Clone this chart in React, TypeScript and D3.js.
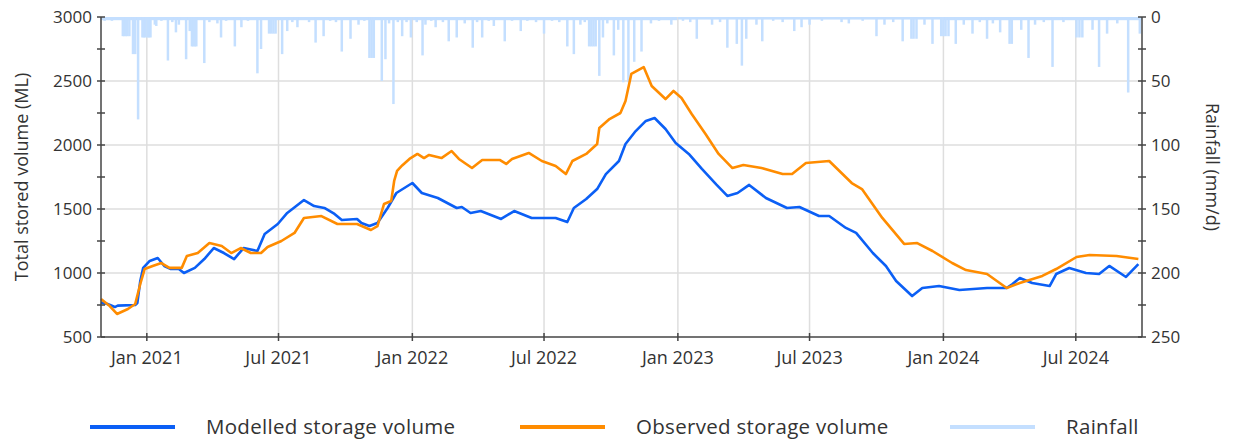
import React, { useEffect, useRef } from "react";
import * as d3 from "d3";

// storage volumes (ML)
const modelled: [string, number][] = [
  ["2020-10-30", 770], ["2020-11-08", 758], ["2020-11-18", 734], ["2020-11-22", 745], ["2020-12-16", 750],
  ["2020-12-19", 766], ["2020-12-23", 938], ["2020-12-27", 1040], ["2021-01-05", 1094],
  ["2021-01-16", 1117], ["2021-01-25", 1055], ["2021-02-03", 1031], ["2021-02-14", 1031],
  ["2021-02-21", 1000], ["2021-03-08", 1040], ["2021-03-21", 1109], ["2021-04-03", 1195],
  ["2021-04-17", 1156], ["2021-05-01", 1109], ["2021-05-14", 1195], ["2021-06-02", 1172],
  ["2021-06-12", 1305], ["2021-06-30", 1383], ["2021-07-13", 1469], ["2021-08-05", 1570],
  ["2021-08-19", 1523], ["2021-09-02", 1508], ["2021-09-16", 1461], ["2021-09-26", 1414],
  ["2021-10-17", 1422], ["2021-10-23", 1391], ["2021-11-03", 1367], ["2021-11-14", 1391],
  ["2021-11-28", 1508], ["2021-12-10", 1625], ["2022-01-01", 1703], ["2022-01-14", 1625],
  ["2022-02-05", 1586], ["2022-03-03", 1508], ["2022-03-10", 1516], ["2022-03-22", 1469],
  ["2022-04-05", 1484], ["2022-05-03", 1422], ["2022-05-21", 1484], ["2022-06-14", 1430],
  ["2022-07-17", 1430], ["2022-08-02", 1398], ["2022-08-11", 1508], ["2022-08-28", 1578],
  ["2022-09-12", 1656], ["2022-09-24", 1773], ["2022-10-12", 1875], ["2022-10-21", 2008],
  ["2022-11-04", 2109], ["2022-11-18", 2188], ["2022-11-30", 2211], ["2022-12-15", 2125],
  ["2022-12-29", 2016], ["2023-01-16", 1930], ["2023-02-03", 1813], ["2023-02-23", 1690],
  ["2023-03-10", 1602], ["2023-03-24", 1625], ["2023-04-09", 1688], ["2023-05-02", 1586],
  ["2023-05-31", 1508], ["2023-06-17", 1516], ["2023-07-14", 1445], ["2023-07-28", 1445],
  ["2023-08-20", 1352], ["2023-09-03", 1313], ["2023-09-26", 1156], ["2023-10-14", 1055],
  ["2023-10-28", 938], ["2023-11-19", 820], ["2023-12-03", 883], ["2023-12-26", 898],
  ["2024-01-23", 867], ["2024-03-01", 883], ["2024-03-28", 883], ["2024-04-05", 914],
  ["2024-04-15", 961], ["2024-05-02", 922], ["2024-05-26", 898], ["2024-06-04", 992],
  ["2024-06-22", 1039], ["2024-07-15", 1000], ["2024-08-02", 992], ["2024-08-16", 1055],
  ["2024-09-08", 969], ["2024-09-25", 1070],
];

const observed: [string, number][] = [
  ["2020-10-30", 797], ["2020-11-11", 742], ["2020-11-21", 680], ["2020-12-06", 719],
  ["2020-12-16", 758], ["2020-12-23", 914], ["2020-12-29", 1031], ["2021-01-09", 1055],
  ["2021-01-21", 1078], ["2021-02-01", 1040], ["2021-02-18", 1040], ["2021-02-25", 1133],
  ["2021-03-12", 1156], ["2021-03-28", 1234], ["2021-04-14", 1211], ["2021-04-27", 1156],
  ["2021-05-10", 1195], ["2021-05-24", 1156], ["2021-06-07", 1156], ["2021-06-16", 1203],
  ["2021-07-05", 1250], ["2021-07-23", 1313], ["2021-08-05", 1430], ["2021-08-29", 1445],
  ["2021-09-20", 1383], ["2021-10-17", 1383], ["2021-11-05", 1336], ["2021-11-14", 1367],
  ["2021-11-23", 1539], ["2021-12-03", 1563], ["2021-12-07", 1719], ["2021-12-11", 1797],
  ["2021-12-18", 1840], ["2021-12-28", 1891], ["2022-01-08", 1930], ["2022-01-17", 1898],
  ["2022-01-24", 1922], ["2022-02-10", 1898], ["2022-02-24", 1953], ["2022-03-06", 1891],
  ["2022-03-24", 1820], ["2022-04-07", 1883], ["2022-05-01", 1883], ["2022-05-10", 1852],
  ["2022-05-18", 1891], ["2022-06-10", 1938], ["2022-06-28", 1875], ["2022-07-17", 1836],
  ["2022-07-31", 1773], ["2022-08-09", 1875], ["2022-08-28", 1930], ["2022-09-12", 2008],
  ["2022-09-15", 2133], ["2022-09-29", 2203], ["2022-10-14", 2250], ["2022-10-21", 2344],
  ["2022-10-29", 2555], ["2022-11-15", 2609], ["2022-11-26", 2461], ["2022-12-15", 2359],
  ["2022-12-26", 2422], ["2023-01-06", 2367], ["2023-01-20", 2242], ["2023-02-08", 2086],
  ["2023-02-26", 1930], ["2023-03-17", 1820], ["2023-04-01", 1844], ["2023-04-26", 1820],
  ["2023-05-25", 1773], ["2023-06-07", 1773], ["2023-06-26", 1859], ["2023-07-28", 1875],
  ["2023-08-28", 1703], ["2023-09-11", 1656], ["2023-10-09", 1430], ["2023-11-08", 1227],
  ["2023-11-26", 1234], ["2023-12-17", 1172], ["2024-01-13", 1078], ["2024-02-01", 1023],
  ["2024-03-01", 992], ["2024-03-28", 883], ["2024-04-15", 922], ["2024-05-16", 977],
  ["2024-06-04", 1031], ["2024-07-02", 1125], ["2024-07-20", 1141], ["2024-08-26", 1133],
  ["2024-09-25", 1109],
];

// daily rainfall (mm/d)
const rainfall: [string, number][] = [
  ["2020-11-04", 3], ["2020-11-14", 3], ["2020-11-29", 15], ["2020-12-01", 15], ["2020-12-03", 15],
  ["2020-12-05", 15], ["2020-12-08", 15], ["2020-12-13", 29], ["2020-12-16", 29],
  ["2020-12-20", 80], ["2020-12-26", 16], ["2020-12-28", 16], ["2020-12-30", 16],
  ["2021-01-02", 16], ["2021-01-04", 16], ["2021-01-06", 16], ["2021-01-12", 6],
  ["2021-01-14", 7], ["2021-01-21", 3], ["2021-01-30", 34], ["2021-02-05", 4], ["2021-02-10", 12],
  ["2021-02-14", 6], ["2021-02-24", 33], ["2021-03-01", 11], ["2021-03-04", 23],
  ["2021-03-06", 23], ["2021-03-08", 23], ["2021-03-10", 23], ["2021-03-21", 36],
  ["2021-03-28", 4], ["2021-04-08", 5], ["2021-04-13", 16], ["2021-04-20", 3], ["2021-05-02", 23],
  ["2021-05-11", 8], ["2021-05-20", 3],
  ["2021-06-02", 44], ["2021-06-07", 25], ["2021-06-18", 13], ["2021-06-21", 13],
  ["2021-06-24", 13], ["2021-06-27", 13], ["2021-07-06", 29], ["2021-07-13", 11],
  ["2021-07-20", 4], ["2021-07-27", 8], ["2021-08-12", 4], ["2021-08-21", 20], ["2021-09-01", 15],
  ["2021-09-10", 3], ["2021-09-18", 4],
  ["2021-09-26", 27], ["2021-10-08", 17], ["2021-10-19", 6], ["2021-10-27", 3], ["2021-11-03", 32],
  ["2021-11-06", 32], ["2021-11-09", 32], ["2021-11-20", 50], ["2021-11-25", 33],
  ["2021-11-30", 5], ["2021-12-06", 68], ["2021-12-12", 4], ["2021-12-18", 15], ["2021-12-24", 4],
  ["2021-12-30", 16], ["2022-01-07", 4], ["2022-01-15", 30],
  ["2022-01-19", 6], ["2022-01-27", 3], ["2022-02-02", 8], ["2022-02-12", 4], ["2022-02-20", 19],
  ["2022-03-03", 16], ["2022-03-14", 5],
  ["2022-03-25", 24], ["2022-03-31", 4], ["2022-04-07", 16], ["2022-04-16", 3], ["2022-04-23", 7],
  ["2022-05-08", 19], ["2022-05-18", 3],
  ["2022-05-30", 11], ["2022-06-08", 3], ["2022-06-20", 4], ["2022-07-01", 13], ["2022-07-12", 3],
  ["2022-07-22", 4], ["2022-08-02", 23], ["2022-08-11", 29],
  ["2022-08-20", 6], ["2022-08-26", 4], ["2022-09-01", 23], ["2022-09-04", 23], ["2022-09-07", 23],
  ["2022-09-10", 23], ["2022-09-15", 46], ["2022-09-20", 16], ["2022-09-26", 5], ["2022-10-05", 30],
  ["2022-10-11", 10], ["2022-10-18", 51], ["2022-10-25", 51], ["2022-11-02", 35],
  ["2022-11-12", 27], ["2022-11-25", 5], ["2022-12-06", 3], ["2022-12-23", 6], ["2023-01-08", 3],
  ["2023-01-18", 4],
  ["2023-01-27", 17], ["2023-02-17", 6], ["2023-02-28", 4], ["2023-03-10", 24], ["2023-03-23", 21],
  ["2023-03-30", 38], ["2023-04-05", 17], ["2023-04-19", 6], ["2023-04-27", 19],
  ["2023-05-12", 3], ["2023-05-25", 4],
  ["2023-06-10", 11], ["2023-06-20", 8], ["2023-07-01", 6], ["2023-07-18", 3], ["2023-08-14", 4],
  ["2023-08-24", 5], ["2023-09-12", 3], ["2023-10-01", 15], ["2023-10-12", 6], ["2023-10-24", 4],
  ["2023-11-06", 19],
  ["2023-11-18", 17], ["2023-11-21", 17], ["2023-11-25", 17], ["2023-12-06", 6],
  ["2023-12-17", 21], ["2023-12-29", 15], ["2024-01-01", 15], ["2024-01-04", 15],
  ["2024-01-08", 15], ["2024-01-18", 21], ["2024-01-29", 6], ["2024-02-10", 13],
  ["2024-02-20", 4], ["2024-03-01", 17], ["2024-03-09", 5], ["2024-03-19", 12], ["2024-04-01", 21],
  ["2024-04-04", 21], ["2024-04-17", 10], ["2024-04-27", 32], ["2024-05-06", 6],
  ["2024-05-18", 4], ["2024-05-30", 39], ["2024-06-14", 4], ["2024-07-02", 16], ["2024-07-06", 16],
  ["2024-07-10", 16], ["2024-07-24", 10], ["2024-08-02", 39], ["2024-08-13", 13], ["2024-08-27", 5],
  ["2024-09-11", 59], ["2024-09-27", 13],
];

// light background drizzle, as [from, to, mm/d]
const drizzle: [string, string, number][] = [
  ["2020-10-30", "2021-12-31", 2.5],
  ["2022-01-01", "2022-12-31", 2.5],
  ["2023-01-01", "2023-12-31", 2],
  ["2024-01-01", "2024-09-30", 2.5],
];

const dateDomain = ["2020-10-30", "2024-09-30"];
const dateTicks = ["2021-01-01", "2021-07-01", "2022-01-01", "2022-07-01",
  "2023-01-01", "2023-07-01", "2024-01-01", "2024-07-01"];
const volumeTicks = [500, 1000, 1500, 2000, 2500, 3000];
const rainTicks = [0, 50, 100, 150, 200, 250];
const legendItems = ["Modelled storage volume", "Observed storage volume", "Rainfall"];

const W = 1233;
const H = 441;
const FONT = "'Open Sans', 'Segoe UI', sans-serif";
const BLUE = "#0b5ff5";
const ORANGE = "#ff8c00";
const RAIN = "#c4dfff";
const AXIS = "#444";
const TEXT = "#333";

export default function App() {
  const ref = useRef<SVGSVGElement>(null);

  useEffect(() => {
    document.body.style.margin = "0";
    const parse = d3.timeParse("%Y-%m-%d");
    const svg = d3.select(ref.current);
    svg.selectAll("*").remove();

    const left = 101, right = 1142, top = 17, bottom = 337;

    const x = d3.scaleTime()
      .domain(dateDomain.map(d => parse(d) as Date))
      .range([left, right]);
    const yVol = d3.scaleLinear().domain([500, 3000]).range([bottom, top]);
    const yRain = d3.scaleLinear().domain([0, 250]).range([top, bottom]);

    const g = svg.append("g");

    // grid
    g.selectAll("line.vg")
      .data(dateTicks)
      .enter().append("line")
      .attr("x1", d => x(parse(d) as Date)).attr("x2", d => x(parse(d) as Date))
      .attr("y1", top).attr("y2", bottom)
      .attr("stroke", "#dedede").attr("stroke-width", 1.5);
    g.selectAll("line.hg")
      .data(volumeTicks.slice(1, -1))
      .enter().append("line")
      .attr("x1", left).attr("x2", right)
      .attr("y1", d => yVol(d)).attr("y2", d => yVol(d))
      .attr("stroke", "#dedede").attr("stroke-width", 1.5);

    // rainfall bars hanging from the top
    g.selectAll("rect.drizzle")
      .data(drizzle)
      .enter().append("rect")
      .attr("x", d => x(parse(d[0]) as Date))
      .attr("width", d => x(parse(d[1]) as Date) - x(parse(d[0]) as Date))
      .attr("y", yRain(0))
      .attr("height", d => yRain(d[2]) - yRain(0))
      .attr("fill", RAIN);
    g.selectAll("rect.rain")
      .data(rainfall)
      .enter().append("rect")
      .attr("x", d => x(parse(d[0]) as Date) - 1.25)
      .attr("width", 2.5)
      .attr("y", yRain(0))
      .attr("height", d => yRain(d[1]) - yRain(0))
      .attr("fill", RAIN);

    const line = d3.line<[string, number]>()
      .x(d => x(parse(d[0]) as Date))
      .y(d => yVol(d[1]));

    g.append("path").datum(modelled)
      .attr("d", line).attr("fill", "none")
      .attr("stroke", BLUE).attr("stroke-width", 2.6).attr("stroke-linejoin", "round");
    g.append("path").datum(observed)
      .attr("d", line).attr("fill", "none")
      .attr("stroke", ORANGE).attr("stroke-width", 2.6).attr("stroke-linejoin", "round");

    // axes
    const axis = svg.append("g").attr("stroke", AXIS).attr("stroke-width", 1.5);
    axis.append("line").attr("x1", left).attr("x2", left).attr("y1", top).attr("y2", bottom);
    axis.append("line").attr("x1", right).attr("x2", right).attr("y1", top).attr("y2", bottom);
    axis.append("line").attr("x1", left).attr("x2", right).attr("y1", bottom).attr("y2", bottom);

    const volMinor = d3.range(500, 3001, 250);
    axis.selectAll("line.lt").data(volMinor).enter().append("line")
      .attr("x1", left - 4).attr("x2", left + 4)
      .attr("y1", d => yVol(d)).attr("y2", d => yVol(d));
    const rainMinor = d3.range(0, 251, 25);
    axis.selectAll("line.rt").data(rainMinor).enter().append("line")
      .attr("x1", right - 4).attr("x2", right + 4)
      .attr("y1", d => yRain(d)).attr("y2", d => yRain(d));
    axis.selectAll("line.bt").data(dateTicks).enter().append("line")
      .attr("x1", d => x(parse(d) as Date)).attr("x2", d => x(parse(d) as Date))
      .attr("y1", bottom - 4).attr("y2", bottom + 4);

    const labels = svg.append("g")
      .attr("font-family", FONT).attr("font-size", 18).attr("fill", TEXT);

    labels.selectAll("text.lv").data(volumeTicks).enter().append("text")
      .attr("x", left - 9).attr("y", d => yVol(d)).attr("dy", "0.35em")
      .attr("text-anchor", "end").attr("font-size", 17).text(d => d);
    labels.selectAll("text.rv").data(rainTicks).enter().append("text")
      .attr("x", right + 9).attr("y", d => yRain(d)).attr("dy", "0.35em")
      .attr("font-size", 17).text(d => d);
    const fmt = d3.timeFormat("%b %Y");
    labels.selectAll("text.dt").data(dateTicks).enter().append("text")
      .attr("x", d => x(parse(d) as Date)).attr("y", bottom + 27)
      .attr("text-anchor", "middle").text(d => fmt(parse(d) as Date));

    labels.append("text")
      .attr("transform", `translate(28,${(top + bottom) / 2}) rotate(-90)`)
      .attr("text-anchor", "middle").text("Total stored volume (ML)");
    labels.append("text")
      .attr("transform", `translate(1206,${(top + bottom) / 2 - 10}) rotate(90)`)
      .attr("text-anchor", "middle").text("Rainfall (mm/d)");

    // legend
    const legendColors = [BLUE, ORANGE, RAIN];
    const legendX = [90, 520, 950];
    const lg = svg.append("g");
    legendItems.forEach((name, i) => {
      lg.append("line")
        .attr("x1", legendX[i]).attr("x2", legendX[i] + 85)
        .attr("y1", 427).attr("y2", 427)
        .attr("stroke", legendColors[i]).attr("stroke-width", 4);
      lg.append("text")
        .attr("x", legendX[i] + 116).attr("y", 427).attr("dy", "0.35em")
        .attr("font-family", FONT).attr("font-size", 20.5).attr("letter-spacing", 0.3)
        .attr("fill", TEXT)
        .text(name);
    });
  }, []);

  return <svg ref={ref} width={W} height={H} style={{ display: "block", background: "#fff" }} />;
}
